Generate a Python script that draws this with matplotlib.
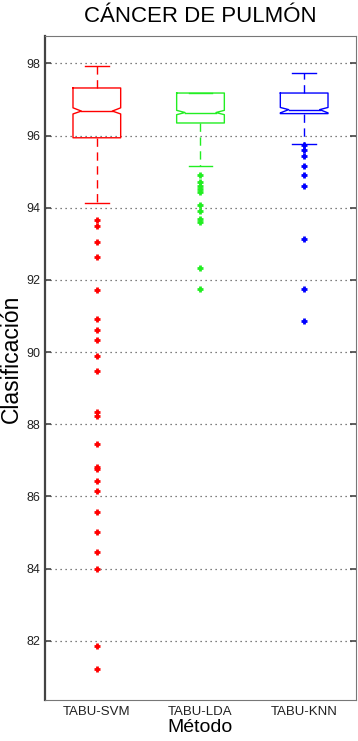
import matplotlib.pyplot as plt

plt.rcParams['font.family'] = ['Liberation Sans', 'DejaVu Sans']

# methods and colours
methods = ["TABU-SVM", "TABU-LDA", "TABU-KNN"]
colors = ["#ff0000", "#22ee22", "#0000ff"]

# box statistics
q1 = [95.94, 96.35, 96.61]
medians = [96.68, 96.64, 96.72]
q3 = [97.32, 97.18, 97.18]
whisker_low = [94.13, 95.16, 95.78]
whisker_high = [97.94, 97.18, 97.73]
notch_low = [96.60, 96.58, 96.63]
notch_high = [96.77, 96.70, 96.78]

# outliers
svm_outliers = [93.66, 93.49, 93.05, 92.63, 91.72, 90.93, 90.61, 90.34, 89.90,
                89.48, 88.34, 88.22, 87.45, 86.83, 86.77, 86.42, 86.16, 85.57,
                85.02, 84.45, 84.00, 81.85, 81.21]
lda_outliers = [94.90, 94.72, 94.61, 94.51, 94.44, 94.09, 93.91, 93.68, 93.61,
                92.34, 91.76]
knn_outliers = [95.73, 95.61, 95.43, 95.16, 94.90, 94.61, 93.13, 91.76, 90.86]
outliers = [svm_outliers, lda_outliers, knn_outliers]

box_w = 0.46
notch_depth = 0.35  # fraction of half box width (matlab style shallow notch)

fig = plt.figure(figsize=(3.58, 7.41), dpi=100)
ax = fig.add_axes([0.1257, 0.0553, 0.8687, 0.8961])

ax.set_ylim(80.36, 98.76)
ax.set_xlim(0.5, 3.5)
ax.set_yticks(range(82, 99, 2))
ax.yaxis.grid(True, linestyle=(0, (1, 3)), color="#555555", linewidth=0.9)
ax.set_axisbelow(True)

for i in range(len(methods)):
    c = colors[i]
    x = i + 1
    # whiskers, caps and outliers from the library
    ax.bxp([{"q1": q1[i], "med": medians[i], "q3": q3[i],
             "whislo": whisker_low[i], "whishi": whisker_high[i],
             "fliers": outliers[i]}],
           positions=[x], widths=box_w, showbox=False,
           medianprops=dict(visible=False),
           whiskerprops=dict(color=c, linewidth=1.0, linestyle=(0, (6, 4))),
           capprops=dict(color=c, linewidth=1.0),
           flierprops=dict(marker="+", markeredgecolor=c, markerfacecolor=c,
                           markersize=4, markeredgewidth=2.0))
    # notched box outline
    l = x - box_w / 2
    r = x + box_w / 2
    d = notch_depth * box_w / 2
    ax.plot([l, r, r, r - d, r, r, l, l, l + d, l, l],
            [q3[i], q3[i], notch_high[i], medians[i], notch_low[i], q1[i],
             q1[i], notch_low[i], medians[i], notch_high[i], q3[i]],
            color=c, linewidth=1.0)
    ax.plot([l + d, r - d], [medians[i], medians[i]], color=c, linewidth=1.0)

ax.set_xticks([1, 2, 3])
ax.set_xticklabels(methods, fontsize=9.5, color="#222222")
ax.tick_params(axis="x", length=0, pad=4)
ax.tick_params(axis="y", direction="in", length=4, labelsize=9,
               labelcolor="#222222", right=True, width=1.2, color="#444444")

for side in ["top", "right", "bottom"]:
    ax.spines[side].set_color("#777777")
ax.spines["left"].set_color("#444444")
ax.spines["left"].set_linewidth(1.6)

ax.set_title("CÁNCER DE PULMÓN", fontsize=16, pad=10)
ax.set_xlabel("Método", fontsize=14, labelpad=1)
ax.set_ylabel("Clasificación", fontsize=16.5)
ax.yaxis.set_label_coords(-0.072, 0.514)

plt.savefig("out.png", dpi=100)
